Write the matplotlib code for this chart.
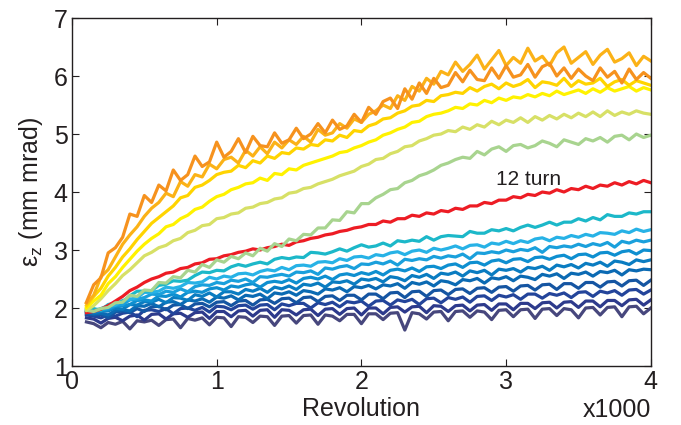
import numpy as np
import matplotlib.pyplot as plt

plt.rcParams['font.family'] = ['Liberation Sans', 'DejaVu Sans']

# revolution number, in thousands (100 ... 4000, every 50 turns)
revs = np.arange(100, 4001, 50) / 1000.0

# longitudinal emittance for each case, mm mrad
eps_orange = [2.10, 2.40, 2.52, 2.95, 3.04, 3.22, 3.62, 3.58, 3.94, 3.82,
              4.12, 4.02, 4.38, 4.20, 4.30, 4.62, 4.44, 4.52, 4.86, 4.60,
              4.70, 4.92, 4.68, 4.96, 4.80, 4.78, 5.02, 4.84, 4.90, 5.10,
              4.92, 5.00, 5.18, 5.02, 5.24, 5.08, 5.14, 5.34, 5.20, 5.46,
              5.34, 5.56, 5.62, 5.44, 5.78, 5.60, 5.88, 5.70, 5.96, 5.80,
              5.84, 6.06, 5.90, 6.10, 5.94, 5.92, 6.14, 5.96, 6.18, 5.98,
              6.02, 6.20, 5.98, 6.16, 6.22, 6.00, 6.14, 5.96, 6.12, 6.00,
              5.92, 6.14, 5.98, 6.08, 5.88, 6.12, 5.94, 6.06, 5.96]
eps_amber = [2.08, 2.22, 2.54, 2.66, 2.88, 3.10, 3.26, 3.40, 3.58, 3.72,
             3.82, 3.98, 3.92, 4.18, 4.10, 4.30, 4.26, 4.48, 4.40, 4.56,
             4.60, 4.50, 4.72, 4.62, 4.78, 4.66, 4.86, 4.76, 4.90, 4.82,
             4.96, 4.86, 5.08, 4.98, 5.02, 5.18, 5.10, 5.26, 5.20, 5.34,
             5.40, 5.50, 5.44, 5.66, 5.58, 5.82, 5.74, 5.96, 5.86, 6.08,
             6.02, 6.24, 6.08, 6.20, 6.36, 6.12, 6.28, 6.44, 6.18, 6.32,
             6.22, 6.48, 6.26, 6.34, 6.18, 6.40, 6.50, 6.22, 6.32, 6.42,
             6.20, 6.36, 6.46, 6.24, 6.30, 6.40, 6.18, 6.34, 6.26]
eps_gold = [2.04, 2.20, 2.34, 2.55, 2.70, 2.88, 3.02, 3.18, 3.32, 3.46,
            3.56, 3.66, 3.76, 3.90, 3.94, 4.08, 4.12, 4.20, 4.30, 4.34,
            4.36, 4.46, 4.42, 4.54, 4.50, 4.62, 4.58, 4.68, 4.66, 4.76,
            4.74, 4.82, 4.80, 4.90, 4.88, 4.98, 4.94, 5.06, 5.04, 5.14,
            5.18, 5.26, 5.28, 5.36, 5.40, 5.48, 5.50, 5.58, 5.56, 5.66,
            5.68, 5.72, 5.70, 5.80, 5.74, 5.82, 5.86, 5.78, 5.88, 5.82,
            5.86, 5.94, 5.80, 5.90, 5.88, 5.84, 5.96, 5.82, 5.92, 5.86,
            5.88, 5.96, 5.82, 5.90, 5.94, 5.84, 5.92, 5.88, 5.84]
eps_yellow = [2.00, 2.12, 2.22, 2.42, 2.54, 2.70, 2.84, 2.98, 3.10, 3.20,
              3.28, 3.40, 3.44, 3.54, 3.60, 3.70, 3.74, 3.84, 3.92, 3.96,
              4.04, 4.08, 4.14, 4.16, 4.24, 4.20, 4.32, 4.30, 4.40, 4.38,
              4.46, 4.50, 4.54, 4.58, 4.62, 4.68, 4.70, 4.76, 4.80, 4.86,
              4.90, 4.98, 5.02, 5.08, 5.12, 5.20, 5.22, 5.30, 5.34, 5.36,
              5.40, 5.46, 5.44, 5.52, 5.50, 5.58, 5.54, 5.62, 5.58, 5.64,
              5.62, 5.68, 5.64, 5.70, 5.66, 5.74, 5.68, 5.72, 5.76, 5.70,
              5.78, 5.72, 5.80, 5.74, 5.78, 5.82, 5.74, 5.80, 5.76]
eps_ygreen = [1.96, 2.04, 2.16, 2.30, 2.42, 2.56, 2.66, 2.78, 2.90, 2.96,
              3.04, 3.08, 3.16, 3.20, 3.30, 3.34, 3.42, 3.44, 3.54, 3.56,
              3.62, 3.64, 3.72, 3.74, 3.80, 3.82, 3.88, 3.90, 3.98, 4.00,
              4.06, 4.08, 4.14, 4.18, 4.22, 4.28, 4.32, 4.36, 4.44, 4.48,
              4.56, 4.58, 4.66, 4.70, 4.78, 4.80, 4.88, 4.92, 4.98, 5.00,
              5.06, 5.04, 5.12, 5.08, 5.16, 5.12, 5.22, 5.16, 5.24, 5.20,
              5.28, 5.20, 5.30, 5.24, 5.32, 5.26, 5.34, 5.28, 5.36, 5.30,
              5.38, 5.30, 5.40, 5.32, 5.38, 5.34, 5.40, 5.36, 5.34]
eps_lgreen = [1.96, 1.94, 1.99, 2.01, 2.09, 2.10, 2.22, 2.20, 2.31, 2.30,
              2.44, 2.43, 2.54, 2.52, 2.65, 2.62, 2.75, 2.70, 2.83, 2.79,
              2.89, 2.85, 2.95, 2.90, 3.03, 2.98, 3.11, 3.06, 3.19, 3.16,
              3.27, 3.26, 3.38, 3.38, 3.52, 3.51, 3.66, 3.64, 3.80, 3.80,
              3.90, 3.96, 4.04, 4.06, 4.16, 4.20, 4.28, 4.32, 4.38, 4.46,
              4.50, 4.56, 4.60, 4.58, 4.70, 4.64, 4.74, 4.78, 4.70, 4.80,
              4.82, 4.76, 4.80, 4.88, 4.84, 4.78, 4.90, 4.86, 4.82, 4.92,
              4.88, 4.94, 4.86, 4.96, 4.98, 4.90, 5.00, 4.94, 4.98]
eps_red = [1.92, 1.94, 1.98, 2.04, 2.12, 2.20, 2.30, 2.36, 2.44, 2.50,
           2.54, 2.60, 2.62, 2.68, 2.70, 2.76, 2.78, 2.84, 2.85, 2.90,
           2.92, 2.96, 2.98, 3.02, 3.00, 3.04, 3.06, 3.10, 3.08, 3.14,
           3.16, 3.20, 3.22, 3.26, 3.28, 3.32, 3.34, 3.38, 3.40, 3.44,
           3.44, 3.50, 3.48, 3.54, 3.54, 3.60, 3.58, 3.64, 3.62, 3.68,
           3.66, 3.72, 3.70, 3.76, 3.76, 3.82, 3.80, 3.86, 3.86, 3.92,
           3.90, 3.96, 3.94, 4.00, 3.98, 4.04, 4.00, 4.06, 4.04, 4.10,
           4.06, 4.12, 4.10, 4.16, 4.12, 4.18, 4.14, 4.20, 4.16]
eps_b1 = [1.98, 1.99, 1.96, 2.06, 2.09, 2.11, 2.21, 2.29, 2.29, 2.30,
          2.39, 2.41, 2.47, 2.46, 2.48, 2.56, 2.62, 2.61, 2.65, 2.64,
          2.71, 2.75, 2.72, 2.76, 2.79, 2.76, 2.84, 2.87, 2.85, 2.88,
          2.87, 2.96, 2.95, 2.93, 2.97, 3.02, 2.98, 3.04, 3.09, 3.05,
          3.07, 3.12, 3.07, 3.16, 3.14, 3.17, 3.15, 3.23, 3.17, 3.23,
          3.25, 3.24, 3.23, 3.32, 3.29, 3.29, 3.35, 3.33, 3.37, 3.33,
          3.39, 3.43, 3.39, 3.43, 3.48, 3.43, 3.48, 3.48, 3.54, 3.50,
          3.56, 3.52, 3.61, 3.58, 3.58, 3.64, 3.62, 3.66, 3.66]
eps_b2 = [1.97, 1.96, 1.99, 2.04, 2.05, 2.13, 2.15, 2.18, 2.27, 2.27,
          2.29, 2.36, 2.34, 2.37, 2.44, 2.43, 2.45, 2.53, 2.50, 2.55,
          2.53, 2.59, 2.60, 2.57, 2.63, 2.66, 2.64, 2.70, 2.66, 2.73,
          2.74, 2.72, 2.79, 2.80, 2.78, 2.85, 2.82, 2.88, 2.89, 2.86,
          2.92, 2.90, 2.95, 2.97, 2.92, 2.98, 3.00, 2.96, 3.03, 3.00,
          3.03, 3.07, 3.02, 3.08, 3.09, 3.05, 3.12, 3.10, 3.15, 3.11,
          3.16, 3.13, 3.19, 3.21, 3.16, 3.22, 3.20, 3.25, 3.22, 3.27,
          3.24, 3.30, 3.29, 3.27, 3.33, 3.30, 3.36, 3.32, 3.35]
eps_b3 = [1.96, 1.95, 1.97, 1.99, 2.05, 2.06, 2.14, 2.15, 2.18, 2.24,
          2.23, 2.29, 2.27, 2.33, 2.28, 2.37, 2.40, 2.39, 2.44, 2.42,
          2.48, 2.46, 2.50, 2.44, 2.54, 2.53, 2.56, 2.58, 2.55, 2.62,
          2.61, 2.64, 2.58, 2.69, 2.67, 2.71, 2.73, 2.68, 2.76, 2.75,
          2.79, 2.76, 2.81, 2.74, 2.84, 2.82, 2.85, 2.83, 2.89, 2.86,
          2.90, 2.88, 2.93, 2.85, 2.95, 2.94, 2.97, 2.95, 3.00, 2.97,
          3.01, 2.99, 3.04, 2.96, 3.06, 3.04, 3.07, 3.05, 3.10, 3.06,
          3.11, 3.08, 3.13, 3.05, 3.15, 3.12, 3.17, 3.14, 3.17]
eps_b4 = [1.95, 1.94, 1.96, 1.97, 2.03, 2.04, 2.06, 2.13, 2.14, 2.12,
          2.21, 2.20, 2.24, 2.19, 2.27, 2.29, 2.27, 2.33, 2.35, 2.31,
          2.38, 2.36, 2.40, 2.42, 2.36, 2.44, 2.46, 2.44, 2.49, 2.43,
          2.51, 2.53, 2.50, 2.55, 2.49, 2.57, 2.59, 2.56, 2.61, 2.58,
          2.63, 2.57, 2.65, 2.67, 2.64, 2.69, 2.63, 2.71, 2.72, 2.68,
          2.74, 2.76, 2.70, 2.78, 2.79, 2.74, 2.81, 2.83, 2.78, 2.84,
          2.85, 2.80, 2.87, 2.88, 2.84, 2.89, 2.91, 2.85, 2.92, 2.93,
          2.88, 2.95, 2.96, 2.91, 2.97, 2.99, 2.93, 3.00, 2.99]
eps_b5 = [1.94, 1.92, 1.94, 1.95, 2.00, 1.98, 2.06, 2.05, 2.11, 2.10,
          2.15, 2.09, 2.18, 2.17, 2.13, 2.23, 2.20, 2.26, 2.19, 2.28,
          2.28, 2.24, 2.32, 2.29, 2.34, 2.27, 2.36, 2.33, 2.38, 2.32,
          2.41, 2.39, 2.43, 2.36, 2.45, 2.44, 2.47, 2.41, 2.50, 2.48,
          2.51, 2.45, 2.54, 2.52, 2.47, 2.56, 2.53, 2.58, 2.51, 2.60,
          2.58, 2.62, 2.55, 2.64, 2.61, 2.65, 2.57, 2.67, 2.65, 2.68,
          2.62, 2.70, 2.68, 2.72, 2.65, 2.74, 2.71, 2.75, 2.69, 2.77,
          2.74, 2.79, 2.72, 2.81, 2.79, 2.75, 2.83, 2.80, 2.83]
eps_b6 = [1.92, 1.90, 1.91, 1.88, 1.96, 1.97, 1.95, 2.04, 2.03, 2.08,
          2.02, 2.10, 2.11, 2.06, 2.14, 2.12, 2.16, 2.10, 2.19, 2.17,
          2.21, 2.14, 2.22, 2.20, 2.24, 2.16, 2.26, 2.24, 2.28, 2.22,
          2.30, 2.28, 2.24, 2.33, 2.31, 2.35, 2.28, 2.37, 2.35, 2.39,
          2.33, 2.40, 2.38, 2.42, 2.34, 2.44, 2.41, 2.45, 2.38, 2.47,
          2.45, 2.40, 2.49, 2.47, 2.51, 2.43, 2.52, 2.50, 2.54, 2.47,
          2.55, 2.53, 2.49, 2.58, 2.55, 2.59, 2.51, 2.60, 2.58, 2.62,
          2.55, 2.63, 2.61, 2.65, 2.57, 2.66, 2.64, 2.67, 2.66]
eps_b7 = [1.90, 1.88, 1.89, 1.83, 1.93, 1.95, 1.92, 1.99, 1.94, 2.02,
          2.03, 1.97, 2.05, 2.06, 1.99, 2.07, 2.08, 2.02, 2.10, 2.11,
          2.04, 2.12, 2.13, 2.05, 2.14, 2.15, 2.08, 2.16, 2.17, 2.09,
          2.18, 2.19, 2.11, 2.20, 2.21, 2.13, 2.22, 2.22, 2.14, 2.24,
          2.24, 2.16, 2.26, 2.27, 2.18, 2.28, 2.29, 2.20, 2.30, 2.31,
          2.23, 2.32, 2.33, 2.25, 2.34, 2.35, 2.27, 2.36, 2.37, 2.29,
          2.38, 2.39, 2.31, 2.40, 2.41, 2.32, 2.42, 2.42, 2.34, 2.44,
          2.44, 2.36, 2.45, 2.46, 2.38, 2.47, 2.48, 2.39, 2.48]
eps_b8 = [1.88, 1.86, 1.83, 1.88, 1.86, 1.91, 1.93, 1.85, 1.96, 1.97,
          1.94, 1.99, 1.90, 1.99, 2.00, 1.96, 2.01, 1.93, 2.03, 2.02,
          1.97, 2.04, 2.05, 1.98, 2.05, 2.06, 1.97, 2.07, 2.04, 2.08,
          2.08, 2.00, 2.09, 2.06, 2.10, 2.02, 2.11, 2.09, 2.12, 2.03,
          2.12, 2.13, 2.05, 2.14, 2.11, 2.15, 2.06, 2.16, 2.17, 2.09,
          2.18, 2.15, 2.19, 2.10, 2.20, 2.21, 2.13, 2.22, 2.19, 2.23,
          2.15, 2.24, 2.24, 2.17, 2.25, 2.22, 2.26, 2.18, 2.27, 2.28,
          2.20, 2.29, 2.26, 2.30, 2.22, 2.31, 2.32, 2.24, 2.31]
eps_b9 = [1.83, 1.81, 1.74, 1.82, 1.84, 1.78, 1.86, 1.88, 1.79, 1.89,
          1.90, 1.81, 1.90, 1.91, 1.84, 1.92, 1.93, 1.82, 1.94, 1.94,
          1.85, 1.95, 1.96, 1.86, 1.96, 1.97, 1.84, 1.97, 1.96, 1.88,
          1.97, 1.98, 1.87, 1.98, 1.99, 1.89, 1.99, 2.00, 1.88, 2.00,
          2.00, 1.90, 2.01, 2.02, 1.93, 2.02, 2.03, 1.92, 2.04, 2.03,
          1.94, 2.04, 2.05, 1.95, 2.05, 2.06, 1.96, 2.07, 2.07, 1.97,
          2.08, 2.08, 1.99, 2.09, 2.10, 2.00, 2.10, 2.11, 2.01, 2.12,
          2.12, 2.02, 2.13, 2.13, 2.04, 2.14, 2.15, 2.05, 2.14]
eps_b10 = [1.76, 1.73, 1.66, 1.75, 1.72, 1.77, 1.64, 1.78, 1.76, 1.79,
           1.70, 1.80, 1.81, 1.66, 1.82, 1.79, 1.83, 1.71, 1.84, 1.83,
           1.68, 1.85, 1.84, 1.75, 1.86, 1.85, 1.70, 1.86, 1.87, 1.74,
           1.87, 1.88, 1.72, 1.88, 1.86, 1.78, 1.89, 1.89, 1.73, 1.90,
           1.90, 1.80, 1.91, 1.92, 1.62, 1.92, 1.90, 1.81, 1.93, 1.94,
           1.78, 1.94, 1.95, 1.84, 1.95, 1.93, 1.80, 1.96, 1.97, 1.85,
           1.97, 1.98, 1.82, 1.98, 1.99, 1.87, 1.99, 1.97, 1.83, 2.00,
           2.01, 1.88, 2.01, 2.02, 1.85, 2.02, 2.03, 1.90, 2.00]

# drawn bottom to top so the upper curves sit on top
curves = [
    (eps_b10, '#47477d'),
    (eps_b9, '#2d3a8c'),
    (eps_b8, '#23449a'),
    (eps_b7, '#1555a2'),
    (eps_b6, '#0b6ab3'),
    (eps_b5, '#0a7cc1'),
    (eps_b4, '#0e8fd0'),
    (eps_b3, '#1aa0dc'),
    (eps_b2, '#27b2e6'),
    (eps_b1, '#1cb8c9'),
    (eps_red, '#ed1c24'),
    (eps_lgreen, '#a8d48f'),
    (eps_ygreen, '#d7e066'),
    (eps_yellow, '#fff200'),
    (eps_gold, '#ffd400'),
    (eps_amber, '#fbb217'),
    (eps_orange, '#f6921e'),
]

fig = plt.figure(figsize=(6.81, 4.25), dpi=100)
ax = fig.add_axes([0.1057, 0.1388, 0.850, 0.8188])

for eps, col in curves:
    ax.plot(revs, eps, color=col, lw=2.3)

ax.text(2.93, 4.21, '12 turn', fontsize=15, va='center', ha='left', color='#231f20')

ax.set_xlim(0, 4)
ax.set_ylim(1, 7)
ax.set_xticks([0, 1, 2, 3, 4])
ax.set_yticks([1, 2, 3, 4, 5, 6, 7])
ax.tick_params(direction='in', top=True, right=True, length=5, width=0.8,
               labelsize=18, colors='#231f20', pad=3)
for sp in ax.spines.values():
    sp.set_linewidth(1.0)
    sp.set_color('#231f20')

ax.set_xlabel('Revolution', fontsize=18, color='#231f20', labelpad=2)
ax.set_ylabel(r'ε$_\mathregular{z}$ (mm mrad)', fontsize=18, color='#231f20', labelpad=6)
fig.text(0.956, 0.018, 'x1000', fontsize=18, ha='right', va='baseline', color='#231f20')

fig.savefig('out.png', dpi=100)
